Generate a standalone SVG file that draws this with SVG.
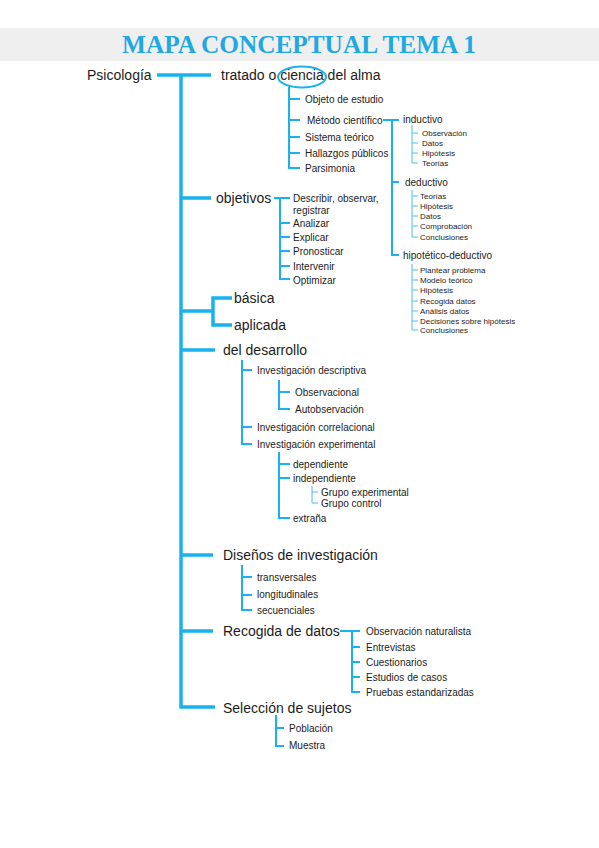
<svg xmlns="http://www.w3.org/2000/svg" width="599" height="848" viewBox="0 0 599 848">
<style>
text{font-family:"Liberation Sans",Arial,sans-serif;fill:#1c1c1c}
.t{font-family:"Liberation Serif","Times New Roman",serif;font-weight:bold;fill:#1fa8e2;font-size:25.3px}
.b{font-size:14px}
.m{font-size:10px}
.s{font-size:8px}
.l1,.l2,.l3{fill:none;stroke:#19b2ee;stroke-linecap:butt;stroke-linejoin:miter}
.l1{stroke-width:3.5}
.l2{stroke-width:2}
.l3{stroke-width:1;stroke:#4cc0f0}
</style>
<rect x="0" y="28" width="599" height="33" fill="#efefef"/>
<text class="t" x="299" y="53" text-anchor="middle">MAPA CONCEPTUAL TEMA 1</text>

<g id="connectors">
<path class="l1" d="M157 75H211M181 75V707H215M181 198H211M181 311H213M232 298H213V325H232M181 350H215M181 555H213M181 631H213"/>
<path class="l2" d="M289 87V168H300M289 99H300M289 120H300M289 137H300M289 153H300
M383 120H399M392 120V255H399M392 182H399
M274 198H290M280 198V279H290M280 223H290M280 237H290M280 251H290M280 266H290
M242 360V444H252M242 370H252M242 427H252
M279 380V409H290M279 392H290
M279 452V518H290M279 464H290M279 478H290
M242 565V610H252M242 577H252M242 595H252
M340 631H360M352 631V692H360M352 647H360M352 662H360M352 677H360
M276 715V746H284M276 728H284"/>
<path class="l3" d="M412 125V163H418M412 133H418M412 143H418M412 153H418
M412 190V237H418M412 196H418M412 206H418M412 216H418M412 226H418
M412 264V330H418M412 270H418M412 280H418M412 290H418M412 301H418M412 311H418M412 321H418
M312 486V503H318M312 492H318"/>
<ellipse class="l2" cx="302" cy="77" rx="24" ry="10.5" stroke-width="1.5"/>
</g>

<g id="psicologia"><text class="b" x="87" y="80">Psicología</text></g>
<g id="tratado"><text class="b" x="221" y="80">tratado o ciencia del alma</text></g>
<g id="tratado-items">
<text class="m" x="305" y="103">Objeto de estudio</text>
<text class="m" x="307" y="124">Método científico</text>
<text class="m" x="305" y="141">Sistema teórico</text>
<text class="m" x="305" y="157">Hallazgos públicos</text>
<text class="m" x="305" y="172">Parsimonia</text>
</g>
<g id="inductivo">
<text class="m" x="403" y="123">inductivo</text>
<text class="s" x="422" y="136">Observación</text>
<text class="s" x="422" y="146">Datos</text>
<text class="s" x="422" y="156">Hipótesis</text>
<text class="s" x="422" y="166">Teorías</text>
</g>
<g id="deductivo">
<text class="m" x="405" y="186">deductivo</text>
<text class="s" x="420" y="199">Teorías</text>
<text class="s" x="420" y="209">Hipótesis</text>
<text class="s" x="420" y="219">Datos</text>
<text class="s" x="420" y="229">Comprobación</text>
<text class="s" x="420" y="240">Conclusiones</text>
</g>
<g id="hipotetico">
<text class="m" x="403" y="259">hipotético-deductivo</text>
<text class="s" x="420" y="273">Plantear problema</text>
<text class="s" x="420" y="283">Modelo teórico</text>
<text class="s" x="420" y="293">Hipótesis</text>
<text class="s" x="420" y="304">Recogida datos</text>
<text class="s" x="420" y="314">Análisis datos</text>
<text class="s" x="420" y="324">Decisiones sobre hipótesis</text>
<text class="s" x="420" y="333">Conclusiones</text>
</g>
<g id="objetivos">
<text class="b" x="216" y="203">objetivos</text>
<text class="m" x="293" y="202">Describir, observar,</text>
<text class="m" x="293" y="214">registrar</text>
<text class="m" x="293" y="227">Analizar</text>
<text class="m" x="293" y="241">Explicar</text>
<text class="m" x="293" y="255">Pronosticar</text>
<text class="m" x="293" y="270">Intervenir</text>
<text class="m" x="293" y="284">Optimizar</text>
</g>
<g id="basica"><text class="b" x="234" y="303">básica</text></g>
<g id="aplicada"><text class="b" x="234" y="330">aplicada</text></g>
<g id="desarrollo">
<text class="b" x="223" y="355">del desarrollo</text>
<text class="m" x="257" y="374">Investigación descriptiva</text>
<text class="m" x="295" y="396">Observacional</text>
<text class="m" x="295" y="413">Autobservación</text>
<text class="m" x="257" y="431">Investigación correlacional</text>
<text class="m" x="257" y="448">Investigación experimental</text>
<text class="m" x="293" y="468">dependiente</text>
<text class="m" x="293" y="482">independiente</text>
<text class="m" x="321" y="496">Grupo experimental</text>
<text class="m" x="321" y="507">Grupo control</text>
<text class="m" x="293" y="522">extraña</text>
</g>
<g id="disenos">
<text class="b" x="223" y="560">Diseños de investigación</text>
<text class="m" x="257" y="581">transversales</text>
<text class="m" x="257" y="598">longitudinales</text>
<text class="m" x="257" y="614">secuenciales</text>
</g>
<g id="recogida">
<text class="b" x="223" y="636">Recogida de datos</text>
<text class="m" x="366" y="635">Observación naturalista</text>
<text class="m" x="366" y="651">Entrevistas</text>
<text class="m" x="366" y="666">Cuestionarios</text>
<text class="m" x="366" y="681">Estudios de casos</text>
<text class="m" x="366" y="696">Pruebas estandarizadas</text>
</g>
<g id="seleccion">
<text class="b" x="223" y="713">Selección de sujetos</text>
<text class="m" x="289" y="732">Población</text>
<text class="m" x="289" y="749">Muestra</text>
</g>
</svg>
